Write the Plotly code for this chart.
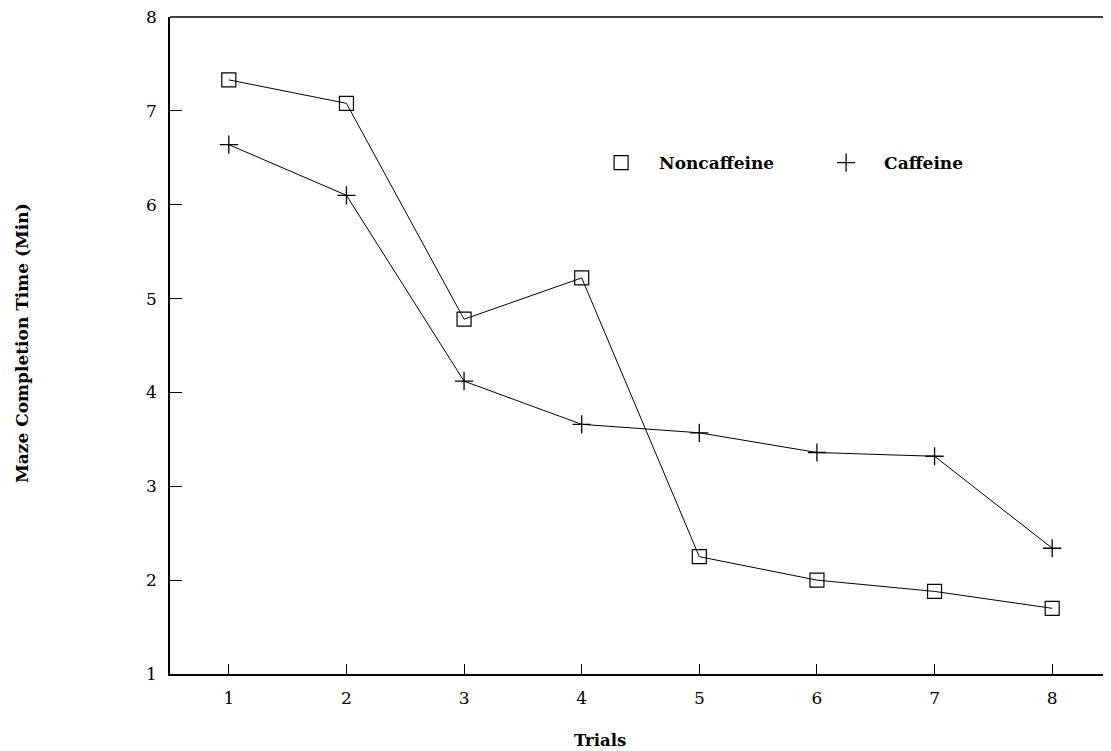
import plotly.graph_objects as go

trials = [1, 2, 3, 4, 5, 6, 7, 8]
noncaffeine = [7.33, 7.08, 4.78, 5.22, 2.25, 2.00, 1.88, 1.70]
caffeine = [6.64, 6.10, 4.12, 3.66, 3.57, 3.36, 3.32, 2.34]
x_ticks = [1, 2, 3, 4, 5, 6, 7, 8]
y_ticks = [1, 2, 3, 4, 5, 6, 7, 8]
series_names = ["Noncaffeine", "Caffeine"]

FONT = "DejaVu Serif"
SQ = dict(symbol="square-open", size=14, color="black", line=dict(width=1.2, color="black"))
PL = dict(symbol="cross-thin-open", size=13, color="black", line=dict(width=1.3, color="black"))

fig = go.Figure()
fig.add_trace(go.Scatter(
    x=trials, y=noncaffeine, name=series_names[0], mode="lines+markers",
    line=dict(color="black", width=1), marker=SQ, showlegend=False,
))
fig.add_trace(go.Scatter(
    x=trials, y=caffeine, name=series_names[1], mode="lines+markers",
    line=dict(color="black", width=1), marker=PL, showlegend=False,
))
# legend entries (marker only)
fig.add_trace(go.Scatter(x=[None], y=[None], mode="markers", marker=SQ,
                         name="<b>" + series_names[0] + "</b>", showlegend=True))
fig.add_trace(go.Scatter(x=[None], y=[None], mode="markers", marker=PL,
                         name="<b>" + series_names[1] + "</b>", showlegend=True))

PLOT_L, PLOT_T, PLOT_W, PLOT_H = 162, 9, 941, 657
BOTTOM = 8 + PLOT_T + PLOT_H  # page y of x-axis

fig.update_layout(
    width=1103, height=743, autosize=False,
    margin=dict(l=PLOT_L, r=0, t=PLOT_T, b=743 - PLOT_T - PLOT_H, autoexpand=False),
    paper_bgcolor="white", plot_bgcolor="white",
    font=dict(family=FONT, size=16, color="black"),
    showlegend=True,
    legend=dict(
        orientation="h", x=0.439, y=1 - (163 - 17) / PLOT_H, xanchor="left", yanchor="middle",
        font=dict(family=FONT, size=17, color="black"),
        bgcolor="rgba(0,0,0,0)", entrywidth=144, entrywidthmode="pixels",
        itemwidth=66,
    ),
    xaxis=dict(
        range=[0.5, 8.5], tickvals=x_ticks, ticks="inside", ticklen=10,
        tickwidth=1, tickcolor="black", showline=True, linecolor="black",
        linewidth=1.5, showgrid=False, zeroline=False, automargin=False,
        tickfont=dict(family=FONT, size=17), ticklabelstandoff=8,
        ticklabeloverflow="allow",
    ),
    yaxis=dict(
        range=[1, 8], tickvals=y_ticks, ticks="inside", ticklen=12,
        tickwidth=1, tickcolor="black", showline=True, linecolor="black",
        linewidth=1.5, showgrid=False, zeroline=False, automargin=False,
        tickfont=dict(family=FONT, size=17), ticklabelstandoff=8,
        ticklabeloverflow="allow",
    ),
)
fig.add_annotation(text="<b>Trials</b>", xref="paper", yref="paper",
                   x=(600 - 170) / PLOT_W, y=-(740 - BOTTOM) / PLOT_H,
                   xanchor="center", yanchor="middle",
                   showarrow=False, font=dict(family=FONT, size=16.5))
fig.add_annotation(text="<b>Maze Completion Time (Min)</b>", xref="paper", yref="paper",
                   x=-(170 - 22) / PLOT_W, y=(BOTTOM - 343) / PLOT_H,
                   xanchor="center", yanchor="middle",
                   textangle=-90, showarrow=False, font=dict(family=FONT, size=17))
# top border line
fig.add_shape(type="line", xref="paper", yref="paper", x0=0, x1=1, y0=1, y1=1,
              line=dict(color="black", width=1.5))

fig.write_html("out.html")
